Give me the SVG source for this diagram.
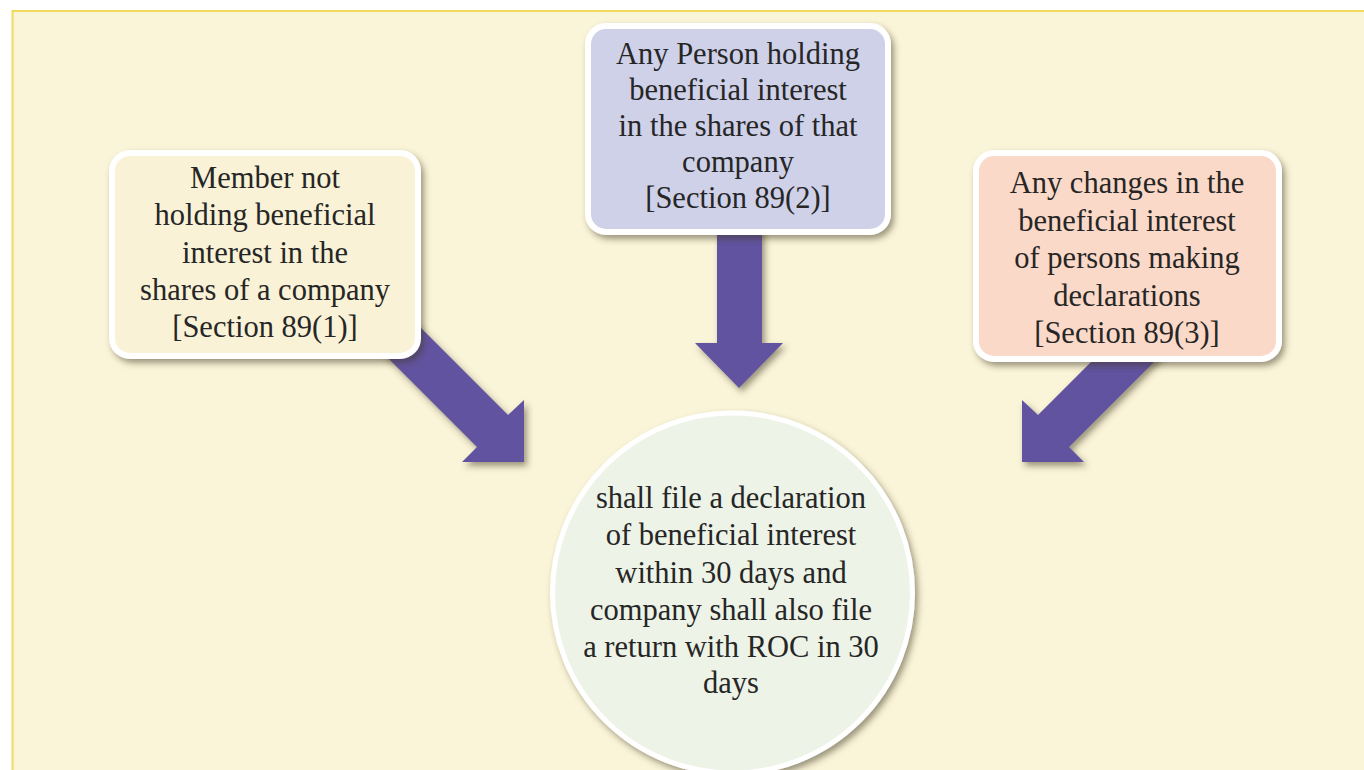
<svg xmlns="http://www.w3.org/2000/svg" width="1364" height="770" viewBox="0 0 1364 770">
  <style>
    .lbl { font-family: "Liberation Serif", "Times New Roman", serif; font-size: 30.5px; fill: #262626; text-anchor: middle; }
    .box { stroke: #ffffff; stroke-width: 6; }
    .arrow { fill: #6253a0; }
  </style>
  <defs>
    <filter id="shadow" x="-20%" y="-20%" width="140%" height="140%">
      <feDropShadow dx="3" dy="4" stdDeviation="3" flood-color="#3a3420" flood-opacity="0.5"/>
    </filter>
  </defs>
  <rect x="0" y="0" width="1364" height="770" fill="#ffffff"/>
  <rect id="panel" x="12.5" y="11" width="1360" height="770" fill="#faf4d8" stroke="#f3da5a" stroke-width="2"/>

  <g id="connectors">
    <polygon class="arrow" filter="url(#shadow)" points="366.5,273.5 508,415 524,400 524,462 462,462 477,447 335,305"/>
    <polygon class="arrow" filter="url(#shadow)" points="717,200 762,200 762,343 783,343 739,388 695,343 717,343"/>
    <polygon class="arrow" filter="url(#shadow)" points="1179.5,273.5 1038,415 1022,400 1022,462 1084,462 1069,447 1211,305"/>
  </g>

  <g id="node-left">
    <rect class="box" filter="url(#shadow)" x="112" y="153" width="306" height="203" rx="18" fill="#f9f2d6"/>
    <text class="lbl" x="265" y="188">Member not</text>
    <text class="lbl" x="265" y="225">holding beneficial</text>
    <text class="lbl" x="265" y="263">interest in the</text>
    <text class="lbl" x="265" y="300">shares of a company</text>
    <text class="lbl" x="265" y="337">[Section 89(1)]</text>
  </g>

  <g id="node-middle">
    <rect class="box" filter="url(#shadow)" x="588" y="26" width="300" height="206" rx="18" fill="#cfd1e9"/>
    <text class="lbl" x="738" y="64">Any Person holding</text>
    <text class="lbl" x="738" y="100">beneficial interest</text>
    <text class="lbl" x="738" y="136">in the shares of that</text>
    <text class="lbl" x="738" y="172">company</text>
    <text class="lbl" x="738" y="208">[Section 89(2)]</text>
  </g>

  <g id="node-right">
    <rect class="box" filter="url(#shadow)" x="976" y="153" width="303" height="206" rx="18" fill="#fbd9c8"/>
    <text class="lbl" x="1127" y="193">Any changes in the</text>
    <text class="lbl" x="1127" y="231">beneficial interest</text>
    <text class="lbl" x="1127" y="268">of persons making</text>
    <text class="lbl" x="1127" y="306">declarations</text>
    <text class="lbl" x="1127" y="343">[Section 89(3)]</text>
  </g>

  <g id="node-result">
    <circle filter="url(#shadow)" cx="732.5" cy="593" r="180" fill="#edf3e6" stroke="#ffffff" stroke-width="5"/>
    <text class="lbl" x="731" y="508">shall file a declaration</text>
    <text class="lbl" x="731" y="545">of beneficial interest</text>
    <text class="lbl" x="731" y="583">within 30 days and</text>
    <text class="lbl" x="731" y="620">company shall also file</text>
    <text class="lbl" x="731" y="657">a return with ROC in 30</text>
    <text class="lbl" x="731" y="693">days</text>
  </g>
</svg>
